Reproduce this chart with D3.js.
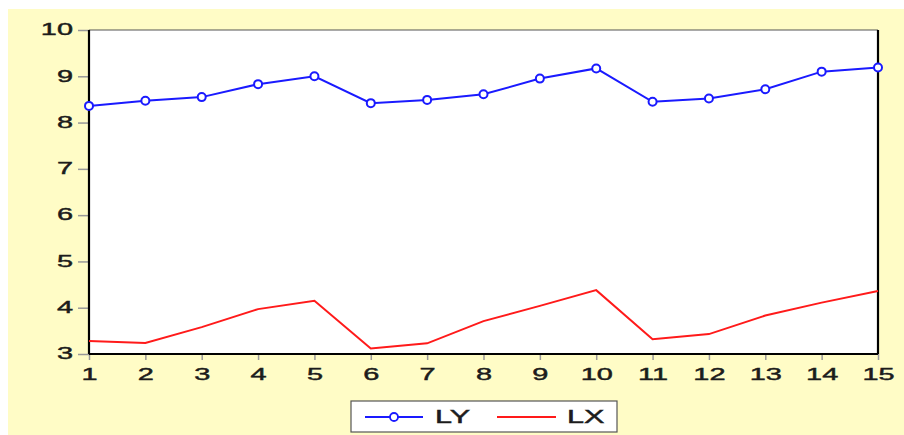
<!DOCTYPE html>
<html>
<head>
<meta charset="utf-8">
<script src="https://cdn.jsdelivr.net/npm/d3@7"></script>
<style>
  html, body { margin: 0; padding: 0; background: #fff; }
  svg { display: block; }
  text { font-family: "Liberation Sans", Arial, sans-serif; }
</style>
</head>
<body>
<svg id="chart" width="904" height="435"></svg>
<script>
// Period index
const periods = [1, 2, 3, 4, 5, 6, 7, 8, 9, 10, 11, 12, 13, 14, 15];
// Series values
const lyValues = [8.36, 8.47, 8.55, 8.83, 9.00, 8.42, 8.49, 8.61, 8.95, 9.17, 8.45, 8.52, 8.72, 9.10, 9.19];
const lxValues = [3.28, 3.24, 3.58, 3.97, 4.15, 3.12, 3.23, 3.71, 4.04, 4.38, 3.32, 3.43, 3.83, 4.11, 4.36];
// Axis ticks
const yTicks = [3, 4, 5, 6, 7, 8, 9, 10];
const xTicks = periods;
const seriesNames = ["LY", "LX"];

const svg = d3.select("#chart");
const W = 904, H = 435;
const plot = { left: 89, top: 30, right: 878, bottom: 354 };
const STRETCH = 1.7;   // wide lettering
const textColor = "#1c1c1c";

// Place a text element at (px, py) with horizontally widened glyphs
function widen(sel, px, py) {
  sel.attr("x", 0).attr("y", 0).attr("dx", null).attr("dy", null)
     .attr("stroke", textColor).attr("stroke-width", 0.45)
     .attr("transform", `translate(${px},${py}) scale(${STRETCH},1)`);
}

// Frame background
svg.append("rect").attr("x", 8).attr("y", 9).attr("width", W - 8).attr("height", H - 9)
  .attr("fill", "#fffcc6");

const x = d3.scaleLinear().domain([1, 15]).range([plot.left, plot.right]);
const y = d3.scaleLinear().domain([3, 10]).range([plot.bottom, plot.top]);

// Plot area
svg.append("rect")
  .attr("x", plot.left).attr("y", plot.top)
  .attr("width", plot.right - plot.left).attr("height", plot.bottom - plot.top)
  .attr("fill", "#fff");

// Y axis
const yAxis = svg.append("g").attr("transform", `translate(${plot.left},0)`)
  .call(d3.axisLeft(y).tickValues(yTicks).tickSize(11).tickFormat(d3.format("d")));
yAxis.select(".domain").remove();
yAxis.selectAll(".tick line").attr("stroke", "#999").attr("stroke-width", 1.5);
yAxis.selectAll(".tick text").attr("fill", textColor).attr("font-size", 17)
  .attr("text-anchor", "end").attr("dominant-baseline", "central")
  .each(function () { widen(d3.select(this), -16, -1); });

// X axis
const xAxis = svg.append("g").attr("transform", `translate(0,${plot.bottom})`)
  .call(d3.axisBottom(x).tickValues(xTicks).tickSize(6).tickFormat(d3.format("d")));
xAxis.select(".domain").remove();
xAxis.selectAll(".tick line").attr("stroke", "#999").attr("stroke-width", 1.5);
xAxis.selectAll(".tick text").attr("fill", textColor).attr("font-size", 17)
  .attr("text-anchor", "middle").attr("dominant-baseline", "central")
  .each(function () { widen(d3.select(this), 0, 20); });

// Plot border
svg.append("line").attr("x1", plot.left).attr("x2", plot.right).attr("y1", plot.top).attr("y2", plot.top)
  .attr("stroke", "#555").attr("stroke-width", 1.2);
svg.append("line").attr("x1", plot.left).attr("x2", plot.left).attr("y1", plot.top).attr("y2", plot.bottom)
  .attr("stroke", "#000").attr("stroke-width", 2.2);
svg.append("line").attr("x1", plot.right).attr("x2", plot.right).attr("y1", plot.top).attr("y2", plot.bottom)
  .attr("stroke", "#000").attr("stroke-width", 2.2);
svg.append("line").attr("x1", plot.left).attr("x2", plot.right).attr("y1", plot.bottom).attr("y2", plot.bottom)
  .attr("stroke", "#000").attr("stroke-width", 2.2);

const line = d3.line().x((d, i) => x(periods[i])).y(d => y(d));

// LX series
svg.append("path").datum(lxValues).attr("d", line)
  .attr("fill", "none").attr("stroke", "#ff1a1a").attr("stroke-width", 2);

// LY series with markers
svg.append("path").datum(lyValues).attr("d", line)
  .attr("fill", "none").attr("stroke", "#1a1aff").attr("stroke-width", 2);
svg.append("g").selectAll("circle").data(lyValues).join("circle")
  .attr("cx", (d, i) => x(periods[i])).attr("cy", d => y(d)).attr("r", 4)
  .attr("fill", "#fff").attr("stroke", "#1a1aff").attr("stroke-width", 2);

// Legend
const lg = svg.append("g");
const ly = 417;
lg.append("rect").attr("x", 351).attr("y", 401).attr("width", 266).attr("height", 31)
  .attr("fill", "#fff").attr("stroke", "#555").attr("stroke-width", 1.2);
lg.append("line").attr("x1", 365).attr("x2", 423).attr("y1", ly).attr("y2", ly)
  .attr("stroke", "#1a1aff").attr("stroke-width", 1.8);
lg.append("circle").attr("cx", 394).attr("cy", ly).attr("r", 4)
  .attr("fill", "#fff").attr("stroke", "#1a1aff").attr("stroke-width", 1.8);
lg.append("text").attr("font-size", 18).attr("fill", textColor)
  .attr("dominant-baseline", "central").text(seriesNames[0])
  .call(widen, 435, ly);
lg.append("line").attr("x1", 497).attr("x2", 556).attr("y1", ly).attr("y2", ly)
  .attr("stroke", "#ff1a1a").attr("stroke-width", 1.8);
lg.append("text").attr("font-size", 18).attr("fill", textColor)
  .attr("dominant-baseline", "central").text(seriesNames[1])
  .call(widen, 567, ly);
</script>
</body>
</html>
